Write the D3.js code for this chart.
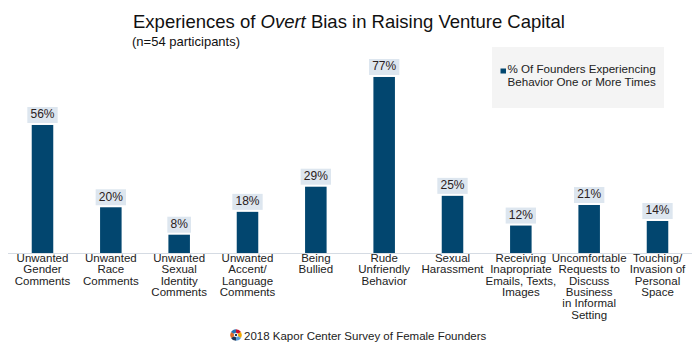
<!DOCTYPE html>
<html>
<head>
<meta charset="utf-8">
<script src="https://cdn.jsdelivr.net/npm/d3@7"></script>
<style>
  html, body { margin: 0; padding: 0; background: #fff; }
  svg { display: block; font-family: "Liberation Sans", Arial, Helvetica, sans-serif; }
</style>
</head>
<body>
<svg id="chart" width="700" height="350"></svg>
<script>
// ---- Data ----
const categories = [
  ["Unwanted", "Gender", "Comments"],
  ["Unwanted", "Race", "Comments"],
  ["Unwanted", "Sexual", "Identity", "Comments"],
  ["Unwanted", "Accent/", "Language", "Comments"],
  ["Being", "Bullied"],
  ["Rude", "Unfriendly", "Behavior"],
  ["Sexual", "Harassment"],
  ["Receiving", "Inapropriate", "Emails, Texts,", "Images"],
  ["Uncomfortable", "Requests to", "Discuss", "Business", "in Informal", "Setting"],
  ["Touching/", "Invasion of", "Personal", "Space"]
];
const values = [56, 20, 8, 18, 29, 77, 25, 12, 21, 14];
const seriesName = ["% Of Founders Experiencing", "Behavior One or More Times"];
const titleParts = ["Experiences of ", "Overt", " Bias in Raising Venture Capital"];
const subtitle = "(n=54 participants)";
const footer = "2018 Kapor Center Survey of Female Founders";

// ---- Layout ----
const svg = d3.select("#chart");
const barColor = "#02466f";
const baseY = 253;

const x = d3.scaleBand()
  .domain(d3.range(values.length))
  .range([8.33, 691.67])
  .paddingInner(0.685)
  .paddingOuter(0.3425);

const y = d3.scaleLinear().domain([0, 100]).range([baseY, 24.4]);

// Title
const title = svg.append("text")
  .attr("x", 133).attr("y", 28)
  .attr("font-size", 18.5).attr("fill", "#111");
title.selectAll("tspan").data(titleParts).enter().append("tspan")
  .attr("font-style", (d, i) => i === 1 ? "italic" : "normal")
  .text(d => d);

svg.append("text")
  .attr("x", 132).attr("y", 46)
  .attr("font-size", 13).attr("fill", "#111")
  .text(subtitle);

// Legend
const lg = svg.append("g");
lg.append("rect").attr("x", 492).attr("y", 47).attr("width", 172).attr("height", 61).attr("fill", "#f4f4f4");
lg.append("rect").attr("x", 500.5).attr("y", 68.5).attr("width", 5.5).attr("height", 5).attr("fill", barColor);
lg.selectAll("text.leg").data(seriesName).enter().append("text")
  .attr("class", "leg")
  .attr("x", 507.5).attr("y", (d, i) => 73 + i * 12.5)
  .attr("font-size", 11.6).attr("fill", "#222")
  .text(d => d);

// Baseline
svg.append("line")
  .attr("x1", 8).attr("x2", 692).attr("y1", baseY + 0.5).attr("y2", baseY + 0.5)
  .attr("stroke", "#d5dbe3").attr("stroke-width", 1.2);

// Bars
svg.append("g").selectAll("rect").data(values).enter().append("rect")
  .attr("x", (d, i) => x(i))
  .attr("y", d => y(d))
  .attr("width", x.bandwidth())
  .attr("height", d => baseY - y(d))
  .attr("fill", barColor);

// Value labels with background boxes
const vl = svg.append("g").selectAll("g").data(values).enter().append("g");
vl.each(function(d, i) {
  const g = d3.select(this);
  const cx = x(i) + x.bandwidth() / 2;
  const t = g.append("text")
    .attr("x", cx).attr("y", y(d) - 6.5)
    .attr("text-anchor", "middle")
    .attr("font-size", 12).attr("fill", "#2a2020")
    .text(d + "%");
  const bb = t.node().getBBox();
  g.insert("rect", "text")
    .attr("x", cx - bb.width / 2 - 3)
    .attr("y", y(d) - 18)
    .attr("width", bb.width + 6)
    .attr("height", 16)
    .attr("fill", "#dde6ef");
});

// Category labels
const cl = svg.append("g").selectAll("text").data(categories).enter().append("text")
  .attr("text-anchor", "middle")
  .attr("font-size", 11.5).attr("fill", "#222")
  .attr("transform", (d, i) => `translate(${x(i) + x.bandwidth() / 2},0)`);
cl.selectAll("tspan").data(d => d).enter().append("tspan")
  .attr("x", 0)
  .attr("y", (d, j) => 262 + j * 11.3)
  .text(d => d);

// Footer logo
const logo = svg.append("g").attr("transform", "translate(236,335)");
const arc = d3.arc().innerRadius(0).outerRadius(5.8);
const logoColors = ["#c8102e", "#f2a900", "#5b9bd5", "#1d3557", "#e06c2a", "#2a6fb0"];
const pie = d3.pie().sort(null)(logoColors.map(() => 1));
logo.selectAll("path").data(pie).enter().append("path")
  .attr("d", arc).attr("fill", (d, i) => logoColors[i]);
logo.append("circle").attr("r", 2.2).attr("fill", "#fff");
logo.append("circle").attr("r", 1.2).attr("fill", "#1d3557");

svg.append("text")
  .attr("x", 244).attr("y", 339.5)
  .attr("font-size", 11.5).attr("fill", "#222")
  .text(footer);
</script>
</body>
</html>
